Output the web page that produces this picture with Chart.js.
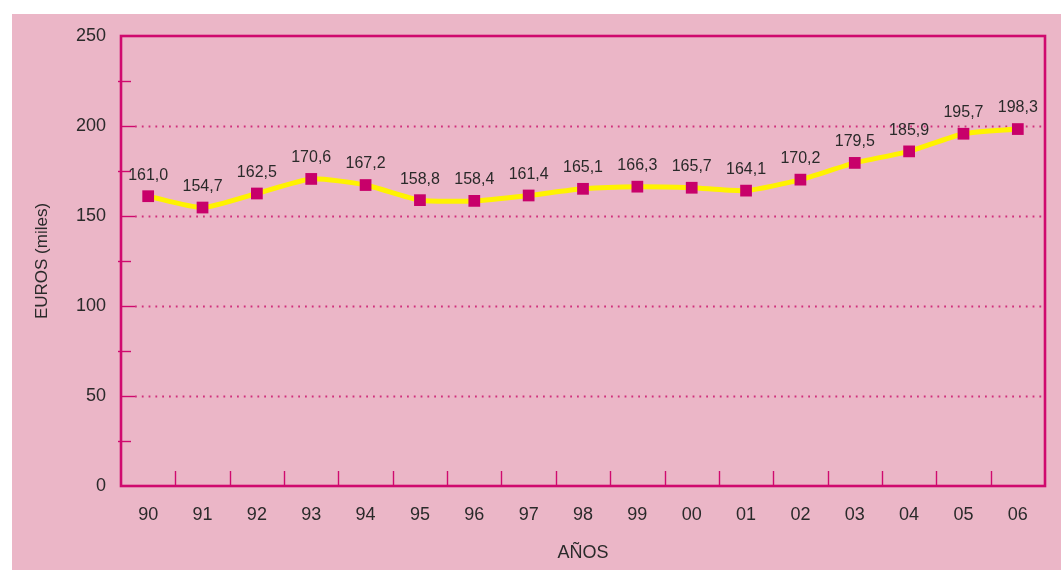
<!DOCTYPE html>
<html><head><meta charset="utf-8">
<script src="https://cdn.jsdelivr.net/npm/chart.js@4"></script>
<style>html,body{margin:0;padding:0;background:#fff}canvas{display:block}</style>
</head><body>
<canvas id="c" width="1061" height="570" style="width:1061px;height:570px"></canvas>
<script>
const categories = ['90','91','92','93','94','95','96','97','98','99','00','01','02','03','04','05','06'];
const values = [161.0,154.7,162.5,170.6,167.2,158.8,158.4,161.4,165.1,166.3,165.7,164.1,170.2,179.5,185.9,195.7,198.3];
const yMajor = [50,100,150,200];
const yMinor = [25,75,125,175,225];
const yTitle = 'EUROS (miles)';
const xTitle = 'AÑOS';

const PINK = '#ebb6c7';
const MAG = '#cf0a6e';
const GRID = '#d0307c';
const TEXT = '#2a2a2a';
const FONT = "'Liberation Sans', Arial, Helvetica, sans-serif";

const decor = {
  id: 'decor',
  beforeDraw(chart) {
    const ctx = chart.ctx;
    ctx.save();
    ctx.fillStyle = '#ffffff';
    ctx.fillRect(0, 0, chart.width, chart.height);
    ctx.fillStyle = PINK;
    ctx.fillRect(12, 14, chart.width - 12, chart.height - 14);
    ctx.restore();
  },
  beforeDatasetsDraw(chart) {
    const ctx = chart.ctx;
    const a = chart.chartArea;
    const y = chart.scales.y, x = chart.scales.x;
    ctx.save();
    // dotted grid
    ctx.strokeStyle = GRID;
    ctx.lineWidth = 1.8;
    ctx.setLineDash([1.8, 5]);
    yMajor.forEach(v => {
      const py = Math.round(y.getPixelForValue(v)) + 0.5;
      ctx.beginPath(); ctx.moveTo(a.left + 14, py); ctx.lineTo(a.right, py); ctx.stroke();
    });
    ctx.setLineDash([]);
    ctx.strokeStyle = MAG;
    ctx.lineWidth = 1.4;
    // major inward ticks
    yMajor.forEach(v => {
      const py = Math.round(y.getPixelForValue(v)) + 0.5;
      ctx.beginPath(); ctx.moveTo(a.left, py); ctx.lineTo(a.left + 14, py); ctx.stroke();
    });
    // minor ticks
    yMinor.forEach(v => {
      const py = Math.round(y.getPixelForValue(v)) + 0.5;
      ctx.beginPath(); ctx.moveTo(a.left - 3, py); ctx.lineTo(a.left + 10, py); ctx.stroke();
    });
    // x ticks between categories
    for (let i = 1; i < categories.length; i++) {
      const px = Math.round((x.getPixelForValue(i - 1) + x.getPixelForValue(i)) / 2) + 0.5;
      ctx.beginPath(); ctx.moveTo(px, a.bottom); ctx.lineTo(px, a.bottom - 15); ctx.stroke();
    }
    // frame
    ctx.lineWidth = 2.6;
    ctx.strokeRect(a.left, a.top, a.right - a.left, a.bottom - a.top);
    ctx.restore();
  },
  afterDatasetsDraw(chart) {
    const ctx = chart.ctx;
    const meta = chart.getDatasetMeta(0);
    ctx.save();
    ctx.fillStyle = TEXT;
    ctx.font = '16px ' + FONT;
    ctx.textAlign = 'center';
    ctx.textBaseline = 'middle';
    meta.data.forEach((pt, i) => {
      ctx.fillText(values[i].toFixed(1).replace('.', ','), pt.x, pt.y - 21);
    });
    ctx.restore();
  }
};

new Chart(document.getElementById('c'), {
  type: 'line',
  data: {
    labels: categories,
    datasets: [{
      data: values,
      borderColor: '#fff200',
      borderWidth: 5,
      tension: 0.2,
      pointStyle: 'rect',
      pointRadius: 8.3,
      pointHoverRadius: 8.3,
      pointBackgroundColor: '#c8006a',
      pointBorderWidth: 0,
      clip: false
    }]
  },
  options: {
    responsive: false,
    animation: false,
    devicePixelRatio: 1,
    layout: { padding: { left: 0, top: 36, right: 16, bottom: 0 } },
    plugins: { legend: { display: false }, tooltip: { enabled: false } },
    scales: {
      x: {
        offset: true,
        grid: { display: false, drawTicks: false },
        border: { display: false },
        ticks: { color: TEXT, font: { size: 18, family: FONT }, padding: 18, maxRotation: 0, autoSkip: false },
        title: { display: true, text: xTitle, color: TEXT, font: { size: 18, family: FONT }, padding: { top: 0, bottom: 6 } },
        afterFit(s) { s.height = 84; }
      },
      y: {
        min: 0, max: 250,
        ticks: { stepSize: 50, color: TEXT, font: { size: 18, family: FONT }, padding: 15 },
        grid: { display: false, drawTicks: false },
        border: { display: false },
        title: { display: true, text: yTitle, color: TEXT, font: { size: 17, family: FONT }, padding: { top: 32, bottom: 0 } },
        afterFit(s) { s.width = 121; }
      }
    }
  },
  plugins: [decor]
});
</script>
</body></html>
